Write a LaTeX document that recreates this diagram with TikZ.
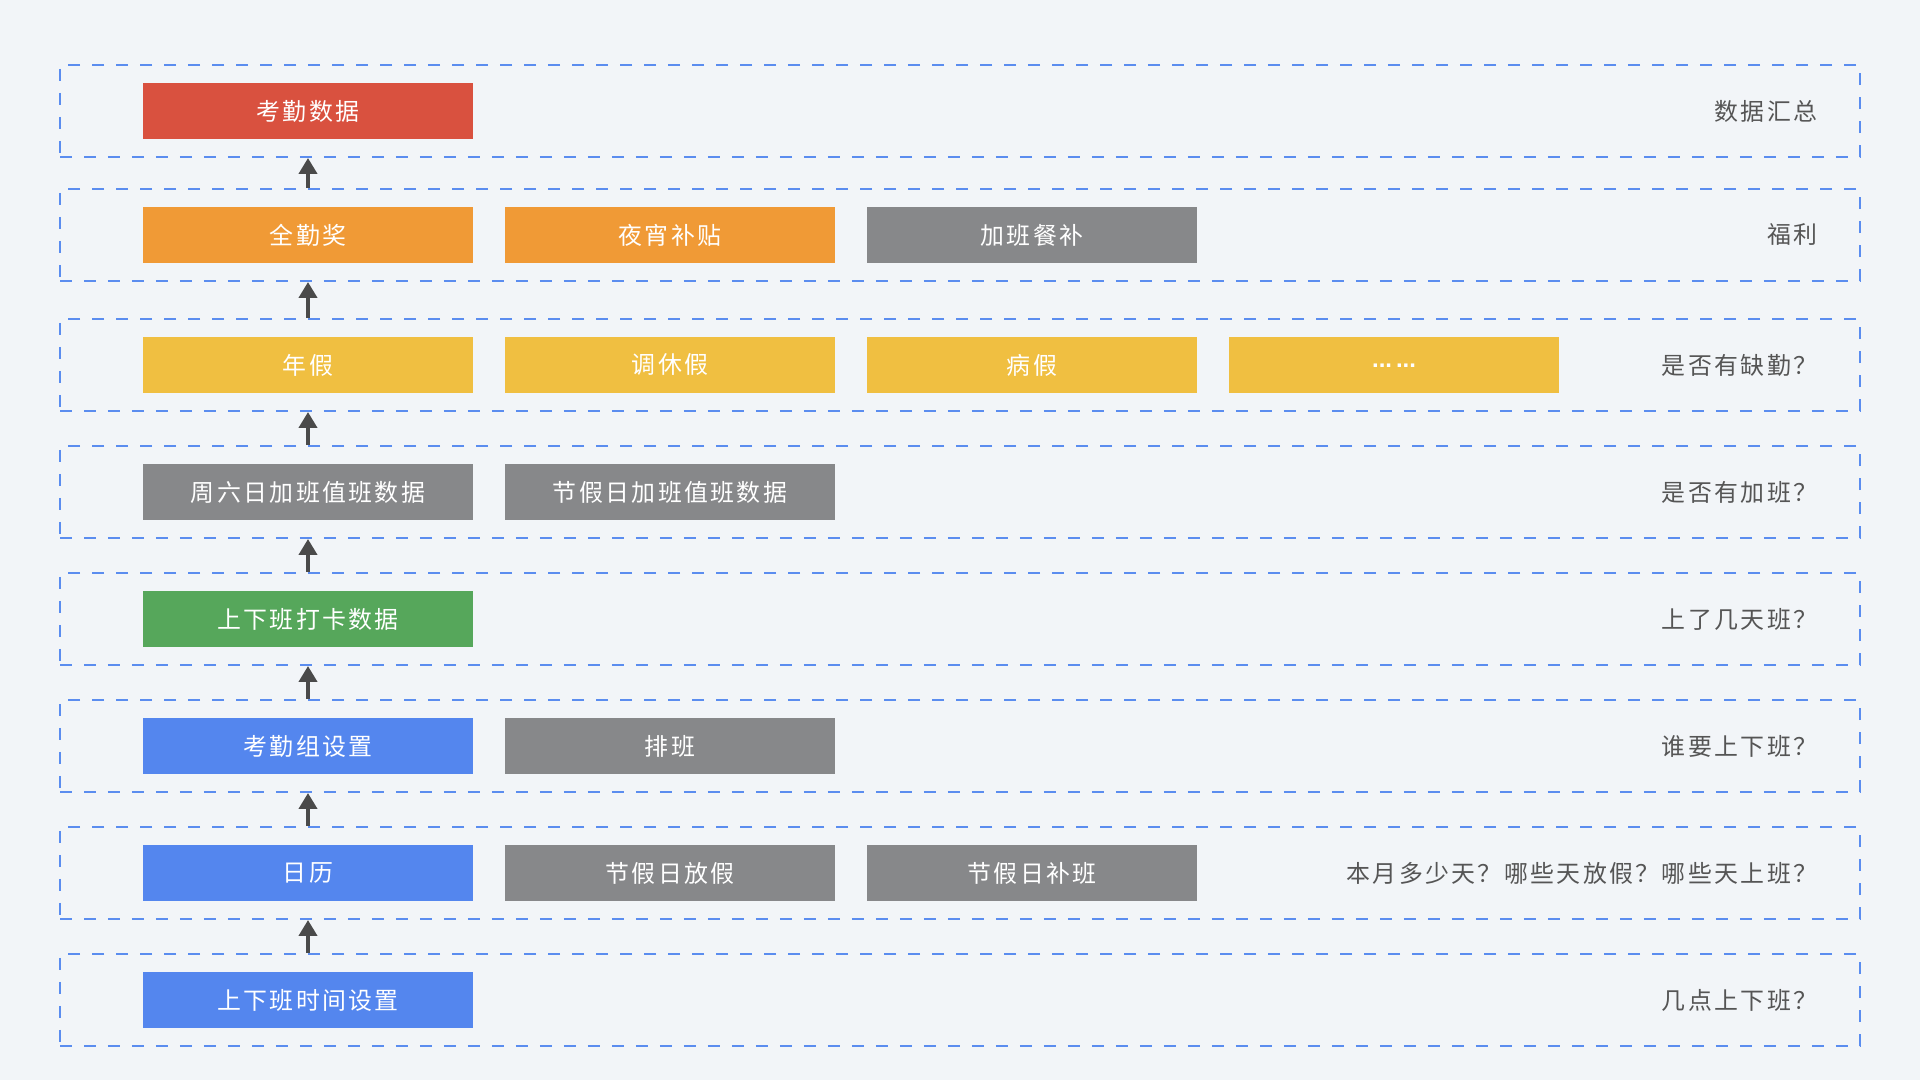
\documentclass[tikz,border=0pt]{standalone}
\usepackage{fontspec}
\setmainfont{Noto Sans CJK SC}[LetterSpace=10]
\newfontfamily\puntos{Liberation Sans}
\usetikzlibrary{positioning,arrows.meta}

\definecolor{fondo}{HTML}{F2F5F8}
\definecolor{linea}{HTML}{5B8DEF}
\definecolor{rojo}{HTML}{D9513F}
\definecolor{naranja}{HTML}{F09A36}
\definecolor{gris}{HTML}{87888A}
\definecolor{amarillo}{HTML}{F0BF41}
\definecolor{verde}{HTML}{56A75B}
\definecolor{azul}{HTML}{5486EE}
\definecolor{texto}{HTML}{555555}
\definecolor{flechacol}{HTML}{4A4A4A}

\begin{document}
\begin{tikzpicture}
    % Estilos
    \tikzset{
        capa/.style={draw=linea, line width=0.02cm, dash pattern=on 0.12cm off 0.12cm,
            minimum width=18cm, minimum height=0.92cm, inner sep=0},
        caja/.style={minimum width=3.3cm, minimum height=0.56cm, inner sep=0, outer sep=0,
            text=white, font=\fontsize{6.8}{8}\selectfont},
        pregunta/.style={text=texto, inner sep=0, font=\fontsize{6.8}{8}\selectfont},
        flecha/.style={-{Triangle[width=0.18cm,length=0.16cm]}, line width=0.04cm, draw=flechacol}
    }

    % Fondo
    \fill[fondo] (0,0) rectangle (19.2,10.8);

    % --- CAPAS ---
    \foreach \i/\y in {0/9.69, 1/8.45, 2/7.15, 3/5.88, 4/4.61, 5/3.34, 6/2.07, 7/0.80}
        \node[capa] (r\i) at (9.6,\y) {};

    % --- FILA 0: datos ---
    \node[caja, fill=rojo, right=0.84cm of r0.west] (k0) {考勤数据};
    \node[pregunta, left=0.43cm of r0.east] (q0) {数据汇总};

    % --- FILA 1: bienestar ---
    \node[caja, fill=naranja, right=0.84cm of r1.west] (k1) {全勤奖};
    \node[caja, fill=naranja, right=0.32cm of k1] (xiaoye) {夜宵补贴};
    \node[caja, fill=gris, right=0.32cm of xiaoye] (canbu) {加班餐补};
    \node[pregunta, left=0.43cm of r1.east] (q1) {福利};

    % --- FILA 2: ausencias ---
    \node[caja, fill=amarillo, right=0.84cm of r2.west] (k2) {年假};
    \node[caja, fill=amarillo, right=0.32cm of k2] (tiaoxiu) {调休假};
    \node[caja, fill=amarillo, right=0.32cm of tiaoxiu] (bingjia) {病假};
    \node[caja, fill=amarillo, right=0.32cm of bingjia] (otros)
        {\smash{\raisebox{-0.025cm}{\puntos\bfseries ...\,...}}};
    \node[pregunta, left=0.43cm of r2.east] (q2) {是否有缺勤？};

    % --- FILA 3: horas extra ---
    \node[caja, fill=gris, right=0.84cm of r3.west] (k3) {周六日加班值班数据};
    \node[caja, fill=gris, right=0.32cm of k3] (festivo) {节假日加班值班数据};
    \node[pregunta, left=0.43cm of r3.east] (q3) {是否有加班？};

    % --- FILA 4: fichaje ---
    \node[caja, fill=verde, right=0.84cm of r4.west] (k4) {上下班打卡数据};
    \node[pregunta, left=0.43cm of r4.east] (q4) {上了几天班？};

    % --- FILA 5: grupos ---
    \node[caja, fill=azul, right=0.84cm of r5.west] (k5) {考勤组设置};
    \node[caja, fill=gris, right=0.32cm of k5] (paiban) {排班};
    \node[pregunta, left=0.43cm of r5.east] (q5) {谁要上下班？};

    % --- FILA 6: calendario ---
    \node[caja, fill=azul, right=0.84cm of r6.west] (k6) {日历};
    \node[caja, fill=gris, right=0.32cm of k6] (fangjia) {节假日放假};
    \node[caja, fill=gris, right=0.32cm of fangjia] (buban) {节假日补班};
    \node[pregunta, left=0.43cm of r6.east] (q6) {本月多少天？哪些天放假？哪些天上班？};

    % --- FILA 7: horario ---
    \node[caja, fill=azul, right=0.84cm of r7.west] (k7) {上下班时间设置};
    \node[pregunta, left=0.43cm of r7.east] (q7) {几点上下班？};

    % --- FLECHAS ---
    \foreach \i [evaluate=\i as \j using int(\i-1)] in {1,...,7}
        \draw[flecha] (r\i.north -| k\i.center) -- (r\j.south -| k\i.center);
\end{tikzpicture}
\end{document}
